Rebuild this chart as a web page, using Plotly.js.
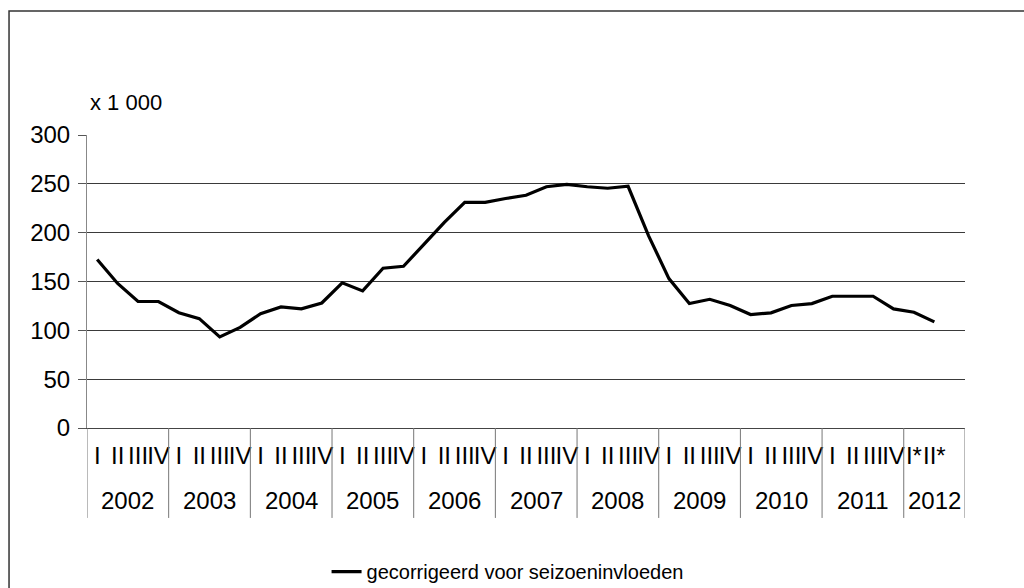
<!DOCTYPE html>
<html>
<head>
<meta charset="utf-8">
<script src="https://cdn.plot.ly/plotly-3.0.1.min.js"></script>
<style>
  html, body { margin: 0; padding: 0; background: #ffffff; }
  #chart { width: 1024px; height: 588px; }
</style>
</head>
<body>
<div id="chart"></div>
<script>
// ---- data ----
const years = ['2002','2003','2004','2005','2006','2007','2008','2009','2010','2011','2012'];
const quarterLabels = ['I','II','III','IV'];
const quarterLabels2012 = ['I*','II*',' '];
const values = [172.5,148,129.5,129.5, 118,112,93.3,103, 117,124,122,128, 148.6,140.4,163.6,165.6,
                188,210.5,231,231, 235,238.3,247,249.5, 247,245.5,247.5,197, 153,127.4,131.8,125.4,
                116.2,117.9,125.4,127.4, 134.9,134.9,134.9,122, 118.5,108.7];
const seriesName = 'gecorrigeerd voor seizoeninvloeden';
const unitLabel = 'x 1 000';

// build category keys (unique), tick texts and year groups
const catKeys = [], tickTexts = [], groups = [];
years.forEach(function (y) {
  const qs = (y === '2012') ? quarterLabels2012 : quarterLabels;
  const start = catKeys.length;
  qs.forEach(function (q) { catKeys.push(y + ' ' + q); tickTexts.push(q); });
  groups.push({ year: y, start: start, end: catKeys.length - 1 });
});
const yvals = values.slice();
while (yvals.length < catKeys.length) yvals.push(null);

const FONT = 'Liberation Sans, Arial, sans-serif';

const trace = {
  type: 'scatter',
  mode: 'lines',
  x: catKeys,
  y: yvals,
  name: seriesName,
  line: { color: '#000000', width: 3.2 },
  showlegend: true,
  hoverinfo: 'skip'
};

// year labels (annotations in data x) and dividers (shapes at group bounds)
const annotations = groups.map(function (g) {
  return {
    xref: 'x', yref: 'paper',
    x: (g.start + g.end) / 2, y: -0.246,
    xanchor: 'center', yanchor: 'middle',
    text: g.year, showarrow: false,
    font: { family: FONT, size: 24, color: '#000000' }
  };
});
annotations.push({
  xref: 'paper', yref: 'paper',
  x: 0.001, y: 1.112,
  xanchor: 'left', yanchor: 'middle',
  text: unitLabel,
  showarrow: false,
  font: { family: FONT, size: 22, color: '#000000' }
});

const shapes = [];
groups.forEach(function (g, i) {
  shapes.push({ type: 'line', xref: 'x', yref: 'paper',
    x0: g.start - 0.5, x1: g.start - 0.5, y0: 0, y1: -0.307,
    line: { color: '#777777', width: 1 } });
  if (i === groups.length - 1) {
    shapes.push({ type: 'line', xref: 'x', yref: 'paper',
      x0: g.end + 0.5, x1: g.end + 0.5, y0: 0, y1: -0.307,
      line: { color: '#777777', width: 1 } });
  }
});
shapes.push({
  type: 'rect',
  xref: 'paper', yref: 'paper',
  x0: -0.0888, x1: 1.2, y0: -1.0, y1: 1.4232,
  line: { color: '#333333', width: 1.5 },
  fillcolor: 'rgba(0,0,0,0)',
  layer: 'below'
});

const layout = {
  width: 1024,
  height: 588,
  margin: { l: 87, r: 59, t: 135, b: 160, autoexpand: false },
  paper_bgcolor: '#ffffff',
  plot_bgcolor: '#ffffff',
  font: { family: FONT, color: '#000000', size: 24 },
  showlegend: true,
  legend: {
    orientation: 'h',
    x: 0.479, xanchor: 'center',
    y: -0.49, yanchor: 'middle',
    font: { family: FONT, size: 20, color: '#000000' },
    bgcolor: 'rgba(0,0,0,0)'
  },
  xaxis: {
    type: 'category',
    range: [-0.5, catKeys.length - 0.5],
    tickmode: 'array',
    tickvals: catKeys,
    ticktext: tickTexts,
    showgrid: false,
    zeroline: false,
    showline: true,
    linecolor: '#444444',
    linewidth: 1,
    ticks: '',
    tickangle: 0,
    ticklabelstandoff: 6,
    tickfont: { family: FONT, size: 24, color: '#000000' },
    fixedrange: true
  },
  yaxis: {
    range: [0, 300],
    dtick: 50,
    tick0: 0,
    showgrid: true,
    gridcolor: '#3a3a3a',
    gridwidth: 1,
    zeroline: false,
    showline: true,
    linecolor: '#888888',
    linewidth: 1,
    ticks: 'outside',
    ticklen: 8,
    tickcolor: '#555555',
    ticklabelstandoff: 3,
    tickfont: { family: FONT, size: 24, color: '#000000' },
    fixedrange: true
  },
  annotations: annotations,
  shapes: shapes
};

Plotly.newPlot('chart', [trace], layout, { displayModeBar: false, staticPlot: true });
</script>
</body>
</html>
